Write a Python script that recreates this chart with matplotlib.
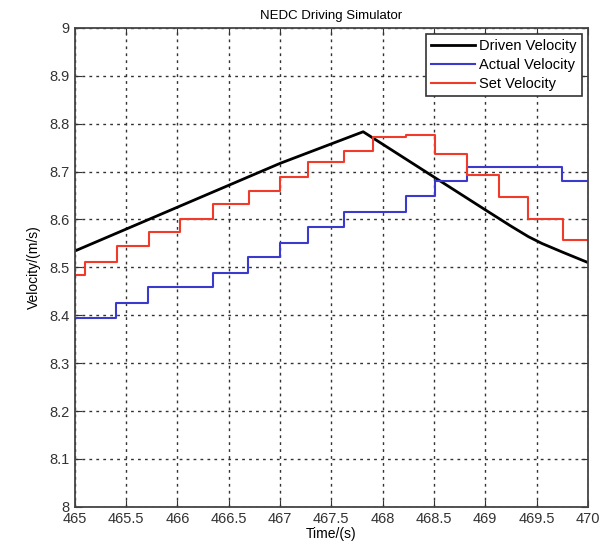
import matplotlib.pyplot as plt

plt.rcParams['font.family'] = ['Liberation Sans', 'DejaVu Sans']

# Data
driven_t = [465.0, 467.0, 467.81, 469.0, 469.25, 469.42, 469.55, 469.76, 470.0]
driven_v = [8.534, 8.717, 8.783, 8.620, 8.586, 8.564, 8.550, 8.531, 8.510]

actual_t = [465.0, 465.40, 465.71, 466.35, 466.69, 467.0, 467.27, 467.62,
            468.23, 468.51, 468.82, 469.75, 470.0]
actual_v = [8.394, 8.425, 8.458, 8.488, 8.521, 8.551, 8.584, 8.616,
            8.648, 8.681, 8.710, 8.681, 8.681]

set_t = [465.0, 465.10, 465.41, 465.72, 466.03, 466.35, 466.70, 467.0,
         467.27, 467.62, 467.91, 468.23, 468.51, 468.82, 469.13, 469.42,
         469.76, 470.0]
set_v = [8.484, 8.511, 8.545, 8.573, 8.601, 8.632, 8.660, 8.688,
         8.720, 8.743, 8.772, 8.777, 8.736, 8.693, 8.647, 8.601,
         8.557, 8.557]

x_ticks = [465, 465.5, 466, 466.5, 467, 467.5, 468, 468.5, 469, 469.5, 470]
x_labels = ['465', '465.5', '466', '466.5', '467', '467.5', '468', '468.5',
            '469', '469.5', '470']
y_ticks = [8, 8.1, 8.2, 8.3, 8.4, 8.5, 8.6, 8.7, 8.8, 8.9, 9]
y_labels = ['8', '8.1', '8.2', '8.3', '8.4', '8.5', '8.6', '8.7', '8.8', '8.9', '9']

fig = plt.figure(figsize=(6.03, 5.45), dpi=100)
ax = fig.add_axes([0.124, 0.070, 0.851, 0.879])

ax.plot(driven_t, driven_v, color='black', linewidth=2, label='Driven Velocity')
ax.plot(actual_t, actual_v, color='#3a3acc', linewidth=1.5,
        drawstyle='steps-post', label='Actual Velocity')
ax.plot(set_t, set_v, color='#f03a2a', linewidth=1.5,
        drawstyle='steps-post', label='Set Velocity')

ax.set_xlim(465, 470)
ax.set_ylim(8, 9)
ax.set_xticks(x_ticks)
ax.set_xticklabels(x_labels)
ax.set_yticks(y_ticks)
ax.set_yticklabels(y_labels)
ax.tick_params(direction='in', labelsize=10.5, colors='#333333', length=5,
               top=True, right=True)

ax.grid(True, linestyle=(0, (2, 3)), color='#333333', linewidth=1)
for s in ax.spines.values():
    s.set_color('#444444')
    s.set_linewidth(1.3)

ax.set_title('NEDC Driving Simulator', fontsize=9.5, pad=6)
ax.set_xlabel('Time/(s)', fontsize=10, labelpad=1)
ax.set_ylabel('Velocity/(m/s)', fontsize=10, labelpad=6)

leg = ax.legend(loc='upper right', fontsize=10.5, fancybox=False,
                framealpha=1, edgecolor='#333333', handlelength=3.0,
                borderpad=0.35, labelspacing=0.35, handletextpad=0.3,
                borderaxespad=0.4)
leg.get_frame().set_linewidth(1.2)

plt.savefig('out.png', dpi=100)
